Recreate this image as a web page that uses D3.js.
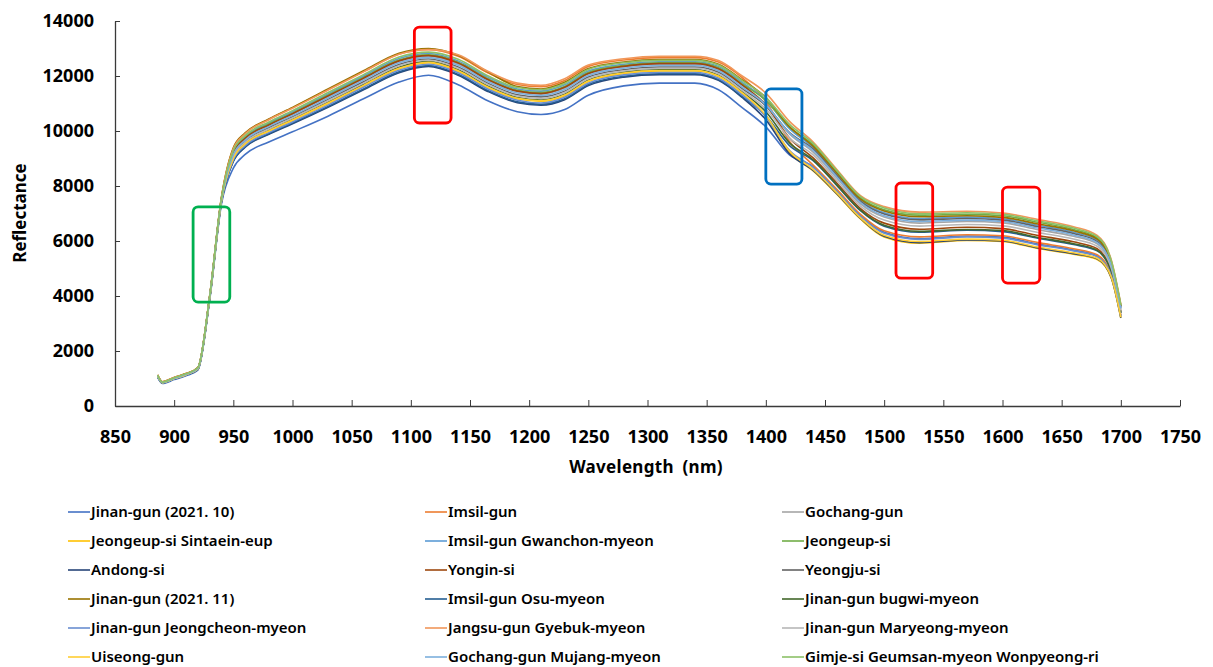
<!DOCTYPE html>
<html><head><meta charset="utf-8">
<script src="https://cdn.jsdelivr.net/npm/d3@7"></script>
<style>
body{margin:0;background:#fff;}
svg{display:block;font-family:"Noto Sans",sans-serif;}
</style></head>
<body><svg id="c" width="1213" height="667"></svg>
<script>
// ---------- DATA ----------
const wavelengths = [886, 890, 900, 910, 920, 930, 940, 950, 960, 980, 1000, 1030, 1060, 1090, 1115, 1140, 1165, 1190, 1210, 1230, 1250, 1280, 1310, 1340, 1360, 1380, 1400, 1420, 1440, 1460, 1480, 1500, 1530, 1570, 1600, 1630, 1660, 1680, 1692, 1700];

const seriesNames = ["Jinan-gun (2021. 10)", "Imsil-gun", "Gochang-gun", "Jeongeup-si Sintaein-eup", "Imsil-gun Gwanchon-myeon", "Jeongeup-si", "Andong-si", "Yongin-si", "Yeongju-si", "Jinan-gun (2021. 11)", "Imsil-gun Osu-myeon", "Jinan-gun bugwi-myeon", "Jinan-gun Jeongcheon-myeon", "Jangsu-gun Gyebuk-myeon", "Jinan-gun Maryeong-myeon", "Uiseong-gun", "Gochang-gun Mujang-myeon", "Gimje-si Geumsan-myeon Wonpyeong-ri"];

const seriesColors = ["#4472C4", "#ED7D31", "#A5A5A5", "#FFC000", "#5B9BD5", "#70AD47", "#264478", "#9E480E", "#636363", "#997300", "#255E91", "#43682B", "#698ED0", "#F1975A", "#B7B7B7", "#FFCD33", "#7CAFDD", "#8CC168"];

const jinan202110 = [1050, 820, 960, 1100, 1300, 3850, 7350, 8650, 9150, 9600, 9970, 10540, 11170, 11780, 12030, 11680, 11100, 10700, 10600, 10780, 11300, 11640, 11740, 11740, 11500, 10850, 10150, 9130, 8710, 7840, 6930, 6320, 6090, 6180, 6140, 5890, 5670, 5460, 4750, 3280];
const imsil = [1130, 880, 1040, 1180, 1400, 3990, 7590, 9360, 9910, 10420, 10840, 11500, 12160, 12800, 12970, 12720, 12120, 11690, 11610, 11840, 12350, 12580, 12670, 12670, 12510, 11940, 11080, 9620, 8760, 7880, 6970, 6370, 6150, 6230, 6190, 5940, 5720, 5500, 4780, 3300];
const gochang = [1110, 860, 1020, 1160, 1370, 3960, 7520, 9180, 9710, 10200, 10610, 11250, 11900, 12530, 12720, 12440, 11850, 11430, 11340, 11560, 12070, 12330, 12430, 12430, 12240, 11660, 10980, 9890, 9230, 8290, 7350, 6870, 6650, 6710, 6660, 6410, 6170, 5900, 5070, 3530];
const sintaein = [1090, 850, 1000, 1140, 1350, 3920, 7460, 8990, 9510, 9990, 10380, 11000, 11640, 12260, 12480, 12170, 11580, 11170, 11080, 11280, 11800, 12090, 12180, 12180, 11980, 11370, 10530, 9210, 8550, 7700, 6800, 6150, 5920, 6020, 5980, 5730, 5520, 5330, 4650, 3200];
const gwanchon = [1110, 870, 1020, 1160, 1380, 3970, 7550, 9250, 9790, 10290, 10700, 11350, 12000, 12640, 12820, 12550, 11960, 11530, 11450, 11680, 12180, 12430, 12520, 12520, 12350, 11770, 11120, 10080, 9390, 8420, 7480, 7030, 6820, 6870, 6810, 6570, 6320, 6030, 5170, 3600];
const jeongeup = [1110, 860, 1020, 1160, 1380, 3960, 7540, 9210, 9750, 10250, 10650, 11300, 11950, 12580, 12770, 12500, 11900, 11480, 11400, 11620, 12130, 12380, 12480, 12480, 12300, 11710, 11110, 10140, 9500, 8510, 7570, 7140, 6940, 6970, 6920, 6680, 6420, 6110, 5240, 3650];
const andong = [1080, 840, 990, 1130, 1330, 3900, 7430, 8890, 9410, 9880, 10260, 10860, 11500, 12120, 12350, 12030, 11440, 11030, 10940, 11140, 11650, 11960, 12050, 12050, 11840, 11220, 10410, 9170, 8570, 7720, 6820, 6170, 5940, 6040, 6000, 5750, 5540, 5350, 4660, 3210];
const yongin = [1110, 860, 1020, 1160, 1370, 3960, 7530, 9190, 9730, 10220, 10630, 11270, 11920, 12550, 12740, 12470, 11870, 11450, 11360, 11590, 12090, 12350, 12450, 12450, 12260, 11680, 10940, 9740, 9020, 8110, 7180, 6650, 6430, 6500, 6450, 6200, 5970, 5720, 4940, 3430];
const yeongju = [1100, 860, 1010, 1150, 1360, 3940, 7500, 9100, 9630, 10120, 10520, 11150, 11790, 12420, 12620, 12330, 11740, 11320, 11240, 11450, 11960, 12230, 12330, 12330, 12140, 11540, 10920, 9940, 9340, 8380, 7440, 6980, 6770, 6820, 6760, 6520, 6270, 5980, 5140, 3580];
const jinan202111 = [1130, 880, 1040, 1180, 1400, 4000, 7600, 9390, 9930, 10440, 10860, 11530, 12190, 12830, 13000, 12750, 12150, 11620, 11530, 11770, 12270, 12510, 12600, 12600, 12430, 11860, 11220, 10160, 9440, 8470, 7520, 7090, 6880, 6920, 6860, 6620, 6370, 6070, 5200, 3630];
const osu = [1080, 840, 990, 1130, 1340, 3900, 7440, 8910, 9430, 9900, 10290, 10890, 11530, 12150, 12380, 12060, 11470, 11060, 10970, 11170, 11690, 11990, 12080, 12080, 11870, 11250, 10550, 9470, 8920, 8020, 7100, 6540, 6320, 6390, 6340, 6100, 5870, 5640, 4880, 3380];
const bugwi = [1090, 850, 1000, 1140, 1350, 3920, 7480, 9030, 9550, 10030, 10430, 11050, 11690, 12320, 12530, 12230, 11640, 11220, 11130, 11340, 11850, 12140, 12230, 12230, 12030, 11430, 10700, 9570, 8950, 8040, 7120, 6570, 6350, 6420, 6380, 6130, 5900, 5660, 4900, 3390];
const jeongcheon = [1080, 840, 990, 1130, 1340, 3910, 7450, 8950, 9470, 9940, 10330, 10940, 11590, 12210, 12430, 12120, 11530, 11120, 11020, 11230, 11740, 12040, 12130, 12130, 11920, 11310, 10520, 9290, 8680, 7810, 6900, 6280, 6060, 6150, 6100, 5860, 5640, 5430, 4730, 3260];
const jangsu = [1120, 880, 1040, 1170, 1390, 3990, 7580, 9350, 9900, 10410, 10830, 11490, 12150, 12790, 12960, 12770, 12170, 11740, 11660, 11900, 12400, 12630, 12720, 12720, 12560, 12000, 11380, 10350, 9600, 8600, 7650, 7250, 7050, 7080, 7020, 6780, 6520, 6200, 5300, 3700];
const maryeong = [1090, 850, 1000, 1140, 1360, 3930, 7490, 9060, 9590, 10070, 10470, 11100, 11740, 12370, 12570, 12280, 11690, 11270, 11180, 11400, 11910, 12180, 12280, 12280, 12080, 11480, 10800, 9740, 9130, 8200, 7270, 6760, 6540, 6600, 6550, 6310, 6070, 5810, 5010, 3480];
const uiseong = [1090, 850, 1000, 1140, 1350, 3920, 7470, 9000, 9530, 10000, 10400, 11020, 11660, 12280, 12500, 12190, 11600, 11190, 11100, 11310, 11820, 12110, 12200, 12200, 12000, 11390, 10570, 9270, 8600, 7750, 6840, 6210, 5980, 6070, 6030, 5780, 5570, 5370, 4680, 3230];
const mujang = [1100, 860, 1010, 1150, 1370, 3950, 7510, 9140, 9670, 10160, 10560, 11200, 11850, 12480, 12670, 12390, 11800, 11380, 11290, 11510, 12020, 12280, 12380, 12380, 12190, 11600, 10950, 9920, 9290, 8330, 7400, 6920, 6710, 6760, 6710, 6470, 6220, 5940, 5110, 3550];
const gimje = [1120, 870, 1030, 1170, 1390, 3980, 7560, 9290, 9830, 10330, 10740, 11400, 12050, 12690, 12870, 12610, 12010, 11580, 11500, 11730, 12240, 12480, 12570, 12570, 12400, 11830, 11220, 10240, 9550, 8560, 7610, 7200, 6990, 7030, 6970, 6730, 6470, 6160, 5270, 3680];

const seriesValues = [jinan202110, imsil, gochang, sintaein, gwanchon, jeongeup, andong, yongin, yeongju, jinan202111, osu, bugwi, jeongcheon, jangsu, maryeong, uiseong, mujang, gimje];

const xTicks = [850, 900, 950, 1000, 1050, 1100, 1150, 1200, 1250, 1300, 1350, 1400, 1450, 1500, 1550, 1600, 1650, 1700, 1750];
const yTicks = [0, 2000, 4000, 6000, 8000, 10000, 12000, 14000];

// highlight boxes: wavelength from / to, reflectance top / bottom, colour
const boxWl0 = [916, 1103, 1400, 1510, 1600];
const boxWl1 = [947, 1134, 1430.5, 1541, 1631.5];
const boxTop = [7240, 13780, 11530, 8110, 7960];
const boxBot = [3780, 10290, 8070, 4650, 4470];
const boxColors = ["#00B050", "#FF0000", "#0070C0", "#FF0000", "#FF0000"];

// ---------- CHART ----------
const svg = d3.select("#c");
const x = d3.scaleLinear().domain([850, 1750]).range([115, 1180]);
const y = d3.scaleLinear().domain([0, 14000]).range([406, 21]);

const xAxis = d3.axisBottom(x).tickValues(xTicks).tickFormat(d3.format("d")).tickSizeInner(-6).tickSizeOuter(0).tickPadding(24);
const yAxis = d3.axisLeft(y).tickValues(yTicks).tickFormat(d3.format("d")).tickSizeInner(-5).tickSizeOuter(0).tickPadding(21);

const gx = svg.append("g").attr("transform", `translate(0,${y(0)})`).call(xAxis);
const gy = svg.append("g").attr("transform", `translate(${x(850)},0)`).call(yAxis);
[gx, gy].forEach(g => {
  g.select(".domain").attr("stroke", "#3a3a3a").attr("stroke-width", 1.3);
  g.selectAll(".tick line").attr("stroke", "#3a3a3a").attr("stroke-width", 1);
  g.selectAll(".tick text").attr("fill", "#000").style("font-size", "18px").style("font-weight", "700").style("font-family", '"Noto Sans", sans-serif');
});

const line = d3.line().x((d, i) => x(wavelengths[i])).y(d => y(d)).curve(d3.curveMonotoneX);
svg.append("g").selectAll("path").data(seriesValues).join("path")
  .attr("d", d => line(d))
  .attr("fill", "none")
  .attr("stroke", (d, i) => seriesColors[i])
  .attr("stroke-width", 1.6)
  .attr("stroke-linejoin", "round");

// boxes
svg.append("g").selectAll("rect").data(boxColors).join("rect")
  .attr("x", (d, i) => x(boxWl0[i]))
  .attr("y", (d, i) => y(boxTop[i]))
  .attr("width", (d, i) => x(boxWl1[i]) - x(boxWl0[i]))
  .attr("height", (d, i) => y(boxBot[i]) - y(boxTop[i]))
  .attr("rx", 5).attr("ry", 5)
  .attr("fill", "none")
  .attr("stroke", d => d)
  .attr("stroke-width", 2.8);

// axis titles
svg.append("text").attr("x", 646).attr("y", 473).attr("text-anchor", "middle")
  .style("font-size", "17px").style("font-weight", "700").style("letter-spacing", "0.3px").style("word-spacing", "4px")
  .text("Wavelength (nm)");
svg.append("text").attr("transform", "translate(26,213) rotate(-90)").attr("text-anchor", "middle")
  .style("font-size", "17px").style("font-weight", "700").text("Reflectance");

// legend
const colX = [68, 425, 782];
const leg = svg.append("g").selectAll("g").data(seriesNames).join("g")
  .attr("transform", (d, i) => `translate(${colX[i % 3]},${512 + Math.floor(i / 3) * 29})`);
leg.append("line").attr("x1", 0).attr("x2", 22).attr("y1", 0).attr("y2", 0)
  .attr("stroke", (d, i) => seriesColors[i]).attr("stroke-width", 1.6);
leg.append("text").attr("x", 23).attr("y", 0).attr("dy", "0.35em")
  .style("font-size", "15px").style("font-weight", "600").text(d => d);
</script>
</body></html>
